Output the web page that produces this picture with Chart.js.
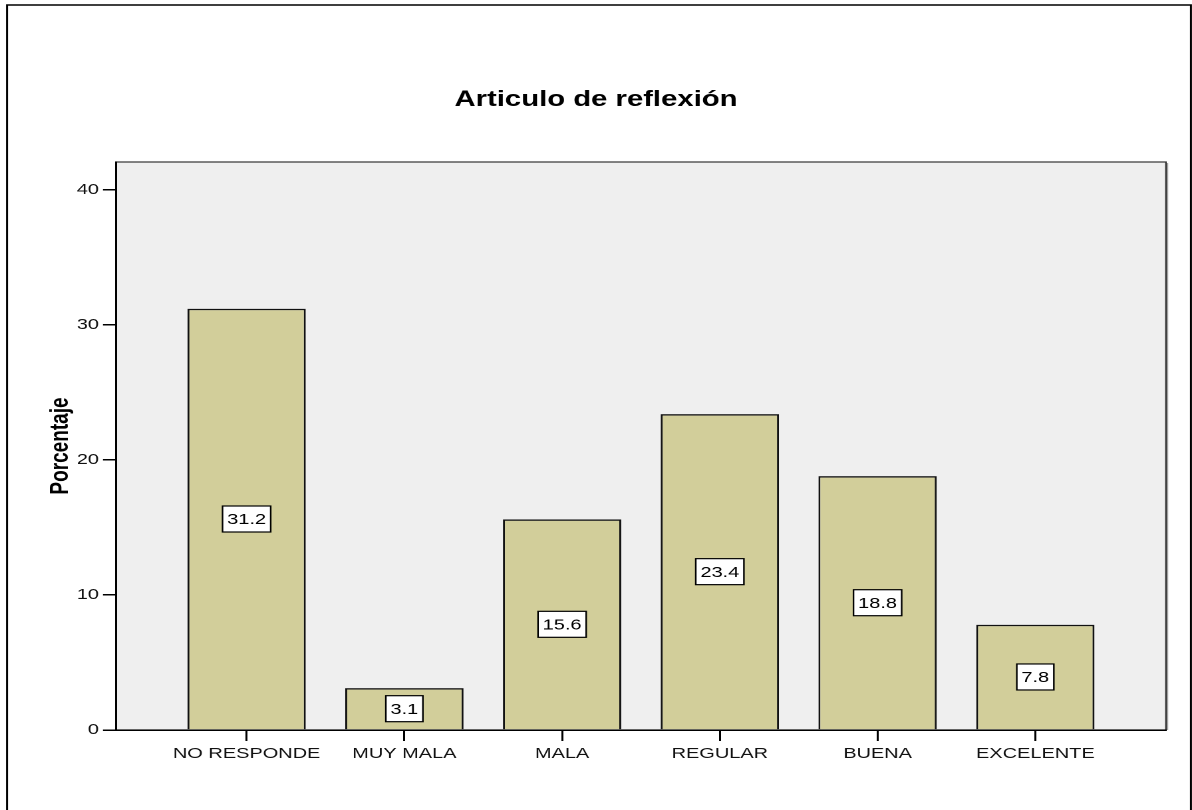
<!DOCTYPE html>
<html>
<head>
<meta charset="utf-8">
<title>Articulo de reflexión</title>
<script src="https://cdn.jsdelivr.net/npm/chart.js@4/dist/chart.umd.min.js"></script>
<style>
  html, body { margin: 0; padding: 0; background: #fff; overflow: hidden; }
  /* the chart is laid out on a narrower canvas and widened to the page width */
  #wrap { width: 896px; height: 810px; transform: scaleX(1.330357); transform-origin: 0 0; }
</style>
</head>
<body>
<div id="wrap"><canvas id="c"></canvas></div>
<script>
const categories = ['NO RESPONDE', 'MUY MALA', 'MALA', 'REGULAR', 'BUENA', 'EXCELENTE'];
const percentages = [31.2, 3.1, 15.6, 23.4, 18.8, 7.8];
const yTicks = [0, 10, 20, 30, 40];

const FONT = '"Liberation Sans", Arial, Helvetica, sans-serif';

// white page, outer frame, grey plot panel with its frame
const panelPlugin = {
  id: 'panel',
  beforeDraw(chart) {
    const ctx = chart.ctx;
    const a = chart.chartArea;
    ctx.save();
    ctx.fillStyle = '#ffffff';
    ctx.fillRect(0, 0, chart.width, chart.height);
    ctx.strokeStyle = '#000';
    ctx.lineWidth = 1.5;
    ctx.strokeRect(5.3, 5, 889.9, 830);
    ctx.fillStyle = '#EFEFEF';
    ctx.fillRect(a.left, a.top, a.right - a.left, a.bottom - a.top);
    ctx.strokeStyle = '#9a9a9a';
    ctx.lineWidth = 1;
    ctx.beginPath();
    ctx.moveTo(a.right + 1.2, a.top + 1);
    ctx.lineTo(a.right + 1.2, a.bottom);
    ctx.stroke();
    ctx.strokeStyle = '#333';
    ctx.lineWidth = 1.2;
    ctx.strokeRect(a.left, a.top, a.right - a.left, a.bottom - a.top);
    ctx.restore();
  }
};

// boxed value labels in the middle of each bar
const valueBoxPlugin = {
  id: 'valueBoxes',
  afterDatasetsDraw(chart) {
    const ctx = chart.ctx;
    const meta = chart.getDatasetMeta(0);
    ctx.save();
    ctx.font = '15px ' + FONT;
    ctx.textAlign = 'center';
    ctx.textBaseline = 'middle';
    meta.data.forEach((bar, i) => {
      const text = percentages[i].toFixed(1);
      const cx = bar.x;
      const cy = (bar.y + bar.base) / 2;
      const w = ctx.measureText(text).width + 7;
      const h = 26;
      ctx.fillStyle = '#fff';
      ctx.fillRect(cx - w / 2, cy - h / 2, w, h);
      ctx.strokeStyle = '#000';
      ctx.lineWidth = 1.2;
      ctx.strokeRect(cx - w / 2, cy - h / 2, w, h);
      ctx.fillStyle = '#000';
      ctx.fillText(text, cx, cy + 1);
    });
    ctx.restore();
  }
};

new Chart(document.getElementById('c'), {
  type: 'bar',
  data: {
    datasets: [{
      data: percentages.map((v, i) => ({ x: i, y: v })),
      backgroundColor: '#D2CE9A',
      borderColor: '#111',
      borderWidth: 1.5,
      categoryPercentage: 0.75,
      barPercentage: 1.0
    }]
  },
  options: {
    responsive: true,
    maintainAspectRatio: false,
    animation: false,
    devicePixelRatio: 2,
    layout: { padding: 0 },
    plugins: {
      legend: { display: false },
      tooltip: { enabled: false },
      title: {
        display: true,
        text: 'Articulo de reflexión',
        color: '#000',
        font: { family: FONT, size: 22, weight: 'bold' },
        padding: { top: 86.8, bottom: 48.8 }
      }
    },
    scales: {
      x: {
        type: 'linear',
        offset: false,
        min: -0.828,
        max: 5.828,
        afterBuildTicks: s => { s.ticks = categories.map((_, i) => ({ value: i })); },
        afterFit: s => { s.height = 80; s.paddingLeft = 0; s.paddingRight = 19.6; },
        ticks: {
          callback: v => categories[v],
          color: '#111',
          font: { family: FONT, size: 15 },
          padding: 4,
          maxRotation: 0,
          autoSkip: false
        },
        grid: { offset: false, drawOnChartArea: false, drawTicks: true, tickLength: 11, color: '#000', lineWidth: 1.5 },
        border: { display: true, color: '#000', width: 1.5 }
      },
      y: {
        min: 0,
        max: 42.07,
        afterBuildTicks: s => { s.ticks = yTicks.map(v => ({ value: v })); },
        afterFit: s => { s.width = 87.2; s.paddingTop = 0; s.paddingBottom = 0; },
        ticks: {
          color: '#111',
          font: { family: FONT, size: 15 },
          padding: 3
        },
        grid: { drawOnChartArea: false, drawTicks: true, tickLength: 9.8, color: '#000', lineWidth: 1.5 },
        border: { display: true, color: '#000', width: 1.5 },
        title: {
          display: true,
          text: 'Porcentaje',
          color: '#000',
          font: { family: FONT, size: 19, weight: 'bold' },
          padding: { top: 34.5, bottom: 0 }
        }
      }
    }
  },
  plugins: [panelPlugin, valueBoxPlugin]
});
</script>
</body>
</html>
